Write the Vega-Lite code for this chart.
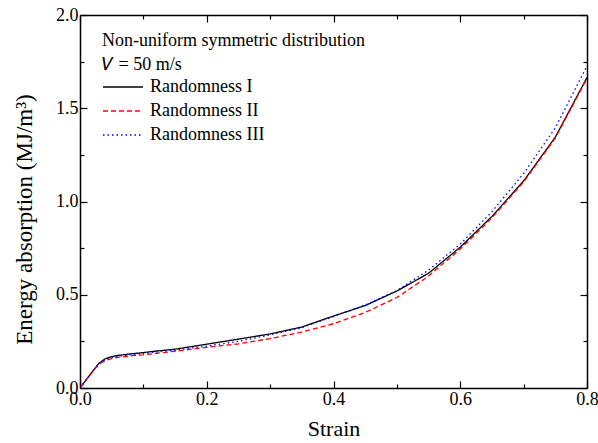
{
  "$schema": "https://vega.github.io/schema/vega-lite/v6.json",
  "width": 507,
  "height": 373,
  "autosize": {"type": "none"},
  "padding": {"left": 80, "top": 15, "right": 11, "bottom": 55},
  "background": "white",
  "config": {
    "font": "Liberation Serif",
    "view": {"stroke": null},
    "axis": {
      "domainColor": "black",
      "domainWidth": 1.5,
      "tickColor": "black",
      "tickWidth": 1.2,
      "grid": false,
      "labelFont": "Liberation Serif",
      "labelFontSize": 18,
      "labelColor": "black",
      "titleFont": "Liberation Serif",
      "titleFontSize": 22,
      "titleFontWeight": "normal",
      "titleColor": "black"
    },
    "legend": {
      "labelFont": "Liberation Serif",
      "titleFont": "Liberation Serif"
    }
  },
  "data": {
    "values": [
      {"strain": 0.0, "energy": 0.0, "series": "Randomness I"},
      {"strain": 0.01, "energy": 0.045, "series": "Randomness I"},
      {"strain": 0.02, "energy": 0.09, "series": "Randomness I"},
      {"strain": 0.03, "energy": 0.133, "series": "Randomness I"},
      {"strain": 0.04, "energy": 0.157, "series": "Randomness I"},
      {"strain": 0.05, "energy": 0.168, "series": "Randomness I"},
      {"strain": 0.06, "energy": 0.175, "series": "Randomness I"},
      {"strain": 0.08, "energy": 0.183, "series": "Randomness I"},
      {"strain": 0.1, "energy": 0.19, "series": "Randomness I"},
      {"strain": 0.12, "energy": 0.198, "series": "Randomness I"},
      {"strain": 0.15, "energy": 0.208, "series": "Randomness I"},
      {"strain": 0.2, "energy": 0.235, "series": "Randomness I"},
      {"strain": 0.25, "energy": 0.262, "series": "Randomness I"},
      {"strain": 0.3, "energy": 0.29, "series": "Randomness I"},
      {"strain": 0.35, "energy": 0.327, "series": "Randomness I"},
      {"strain": 0.4, "energy": 0.386, "series": "Randomness I"},
      {"strain": 0.45, "energy": 0.442, "series": "Randomness I"},
      {"strain": 0.5, "energy": 0.52, "series": "Randomness I"},
      {"strain": 0.55, "energy": 0.615, "series": "Randomness I"},
      {"strain": 0.6, "energy": 0.755, "series": "Randomness I"},
      {"strain": 0.65, "energy": 0.92, "series": "Randomness I"},
      {"strain": 0.7, "energy": 1.11, "series": "Randomness I"},
      {"strain": 0.75, "energy": 1.345, "series": "Randomness I"},
      {"strain": 0.8, "energy": 1.665, "series": "Randomness I"},

      {"strain": 0.0, "energy": 0.0, "series": "Randomness II"},
      {"strain": 0.01, "energy": 0.045, "series": "Randomness II"},
      {"strain": 0.02, "energy": 0.088, "series": "Randomness II"},
      {"strain": 0.03, "energy": 0.128, "series": "Randomness II"},
      {"strain": 0.04, "energy": 0.148, "series": "Randomness II"},
      {"strain": 0.05, "energy": 0.158, "series": "Randomness II"},
      {"strain": 0.06, "energy": 0.164, "series": "Randomness II"},
      {"strain": 0.08, "energy": 0.172, "series": "Randomness II"},
      {"strain": 0.1, "energy": 0.178, "series": "Randomness II"},
      {"strain": 0.12, "energy": 0.186, "series": "Randomness II"},
      {"strain": 0.15, "energy": 0.197, "series": "Randomness II"},
      {"strain": 0.2, "energy": 0.218, "series": "Randomness II"},
      {"strain": 0.25, "energy": 0.237, "series": "Randomness II"},
      {"strain": 0.3, "energy": 0.265, "series": "Randomness II"},
      {"strain": 0.35, "energy": 0.3, "series": "Randomness II"},
      {"strain": 0.4, "energy": 0.345, "series": "Randomness II"},
      {"strain": 0.45, "energy": 0.405, "series": "Randomness II"},
      {"strain": 0.5, "energy": 0.485, "series": "Randomness II"},
      {"strain": 0.55, "energy": 0.6, "series": "Randomness II"},
      {"strain": 0.6, "energy": 0.745, "series": "Randomness II"},
      {"strain": 0.65, "energy": 0.912, "series": "Randomness II"},
      {"strain": 0.7, "energy": 1.105, "series": "Randomness II"},
      {"strain": 0.75, "energy": 1.34, "series": "Randomness II"},
      {"strain": 0.8, "energy": 1.66, "series": "Randomness II"},

      {"strain": 0.0, "energy": 0.0, "series": "Randomness III"},
      {"strain": 0.01, "energy": 0.045, "series": "Randomness III"},
      {"strain": 0.02, "energy": 0.09, "series": "Randomness III"},
      {"strain": 0.03, "energy": 0.13, "series": "Randomness III"},
      {"strain": 0.04, "energy": 0.153, "series": "Randomness III"},
      {"strain": 0.05, "energy": 0.163, "series": "Randomness III"},
      {"strain": 0.06, "energy": 0.17, "series": "Randomness III"},
      {"strain": 0.08, "energy": 0.178, "series": "Randomness III"},
      {"strain": 0.1, "energy": 0.185, "series": "Randomness III"},
      {"strain": 0.12, "energy": 0.193, "series": "Randomness III"},
      {"strain": 0.15, "energy": 0.203, "series": "Randomness III"},
      {"strain": 0.2, "energy": 0.225, "series": "Randomness III"},
      {"strain": 0.25, "energy": 0.25, "series": "Randomness III"},
      {"strain": 0.3, "energy": 0.285, "series": "Randomness III"},
      {"strain": 0.35, "energy": 0.323, "series": "Randomness III"},
      {"strain": 0.4, "energy": 0.383, "series": "Randomness III"},
      {"strain": 0.45, "energy": 0.445, "series": "Randomness III"},
      {"strain": 0.5, "energy": 0.522, "series": "Randomness III"},
      {"strain": 0.55, "energy": 0.632, "series": "Randomness III"},
      {"strain": 0.6, "energy": 0.772, "series": "Randomness III"},
      {"strain": 0.65, "energy": 0.945, "series": "Randomness III"},
      {"strain": 0.7, "energy": 1.15, "series": "Randomness III"},
      {"strain": 0.75, "energy": 1.395, "series": "Randomness III"},
      {"strain": 0.8, "energy": 1.727, "series": "Randomness III"}
    ]
  },
  "layer": [
    {
      "mark": {"type": "line", "strokeWidth": 1.3, "clip": true},
      "encoding": {
        "x": {
          "field": "strain", "type": "quantitative",
          "scale": {"domain": [0, 0.8], "nice": false, "zero": false},
          "axis": {
            "orient": "bottom",
            "title": "Strain",
            "values": [0, 0.1, 0.2, 0.3, 0.4, 0.5, 0.6, 0.7, 0.8],
            "labelExpr": "round(datum.value*10) % 2 == 0 ? format(datum.value, '.1f') : ''",
            "tickSize": {"condition": {"test": "round(datum.value*10) % 2 == 1", "value": -4}, "value": -7},
            "labelPadding": 9,
            "labelFlush": false,
            "titlePadding": 10
          }
        },
        "y": {
          "field": "energy", "type": "quantitative",
          "scale": {"domain": [0, 2], "nice": false},
          "axis": {
            "orient": "left",
            "title": "Energy absorption (MJ/m³)",
            "titleFontSize": 23,
            "titleY": 204,
            "values": [0, 0.25, 0.5, 0.75, 1, 1.25, 1.5, 1.75, 2],
            "labelExpr": "round(datum.value*4) % 2 == 0 ? format(datum.value, '.1f') : ''",
            "tickSize": {"condition": {"test": "round(datum.value*4) % 2 == 1", "value": -4}, "value": -7},
            "labelPadding": 9,
            "labelFlush": false,
            "titlePadding": 19
          }
        },
        "color": {
          "field": "series", "type": "nominal",
          "scale": {"domain": ["Randomness I", "Randomness II", "Randomness III"], "range": ["black", "#ff0000", "#0000ff"]},
          "legend": {
            "title": ["Non-uniform symmetric distribution", "𝑉 = 50 m/s"],
            "orient": "none",
            "legendX": 22,
            "legendY": 17,
            "titleFontSize": 18,
            "titleFontWeight": "normal",
            "titleColor": "black",
            "titleLimit": 500,
            "titleLineHeight": 24,
            "titlePadding": 2,
            "labelFontSize": 18,
            "labelColor": "black",
            "labelLimit": 300,
            "symbolType": "M-1,0H3",
            "symbolSize": 400,
            "symbolStrokeWidth": 1.3,
            "rowPadding": 4,
            "labelOffset": 26
          }
        },
        "strokeDash": {
          "field": "series", "type": "nominal",
          "scale": {"domain": ["Randomness I", "Randomness II", "Randomness III"], "range": [[1, 0], [5, 3], [1.5, 3]]},
          "legend": null
        }
      }
    },
    {
      "mark": {"type": "line", "opacity": 0},
      "encoding": {
        "x": {
          "field": "strain", "type": "quantitative",
          "axis": {
            "orient": "top", "title": null, "labels": false,
            "values": [0, 0.1, 0.2, 0.3, 0.4, 0.5, 0.6, 0.7, 0.8],
            "tickSize": {"condition": {"test": "round(datum.value*10) % 2 == 1", "value": -4}, "value": -7}
          }
        },
        "y": {
          "field": "energy", "type": "quantitative",
          "axis": {
            "orient": "right", "title": null, "labels": false,
            "values": [0, 0.25, 0.5, 0.75, 1, 1.25, 1.5, 1.75, 2],
            "tickSize": {"condition": {"test": "round(datum.value*4) % 2 == 1", "value": -4}, "value": -7}
          }
        },
        "detail": {"field": "series"}
      }
    }
  ],
  "resolve": {"axis": {"x": "independent", "y": "independent"}}
}
